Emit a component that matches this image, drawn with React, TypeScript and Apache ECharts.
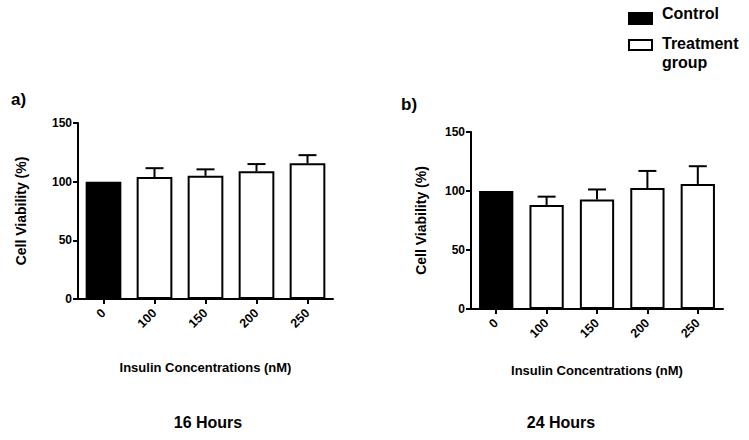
import React, { useEffect, useRef } from "react";
import * as echarts from "echarts";

const categories = ["0", "100", "150", "200", "250"];
const values16h = [100, 104, 105, 108.8, 115.6];
const errors16h = [0, 7.5, 5.5, 6.2, 7];
const values24h = [100, 88.2, 92.8, 102.5, 106];
const errors24h = [0, 7, 8.5, 14.5, 15];
const yTicks = { min: 0, max: 150, interval: 50 };

const FONT = "Liberation Sans, Arial, sans-serif";

function barData(values: number[]) {
  return values.map((v, i) => ({
    value: v,
    itemStyle: {
      color: i === 0 ? "#000" : "#fff",
      borderColor: "#000",
      borderWidth: 2,
    },
  }));
}

function errData(values: number[], errs: number[]) {
  return values
    .map((v, i) => [i, v, errs[i]])
    .filter((d) => d[2] > 0);
}

function errRender(params: any, api: any) {
  const idx = api.value(0);
  const v = api.value(1);
  const e = api.value(2);
  const p0 = api.coord([idx, v]);
  const p1 = api.coord([idx, v + e]);
  const half = 9;
  const style = { stroke: "#000", lineWidth: 2 };
  return {
    type: "group",
    children: [
      { type: "line", shape: { x1: p0[0], y1: p0[1], x2: p1[0], y2: p1[1] }, style },
      { type: "line", shape: { x1: p1[0] - half, y1: p1[1], x2: p1[0] + half, y2: p1[1] }, style },
    ],
  };
}

export default function App() {
  const ref = useRef<HTMLDivElement>(null);
  useEffect(() => {
    if (!ref.current) return;
    const chart = echarts.init(ref.current, null, { renderer: "svg" });
    const axisLine = { show: true, lineStyle: { color: "#000", width: 2 } };
    const xAxisCommon = (gridIndex: number, gap: number) => ({
      type: "category",
      gridIndex,
      data: categories,
      axisLine,
      axisTick: { show: true, alignWithLabel: true, length: 5, lineStyle: { color: "#000", width: 2 } },
      axisLabel: {
        rotate: 45,
        fontFamily: FONT,
        fontWeight: "bold",
        fontSize: 12.5,
        color: "#000",
        margin: 12,
      },
      name: "Insulin Concentrations (nM)",
      nameLocation: "middle",
      nameGap: gap,
      nameTextStyle: { fontFamily: FONT, fontWeight: "bold", fontSize: 13, color: "#000" },
    });
    const yAxisCommon = (gridIndex: number, gap: number) => ({
      type: "value",
      gridIndex,
      min: yTicks.min,
      max: yTicks.max,
      interval: yTicks.interval,
      axisLine,
      axisTick: { show: true, length: 5, lineStyle: { color: "#000", width: 2 } },
      splitLine: { show: false },
      axisLabel: { fontFamily: FONT, fontWeight: "bold", fontSize: 12, color: "#000", margin: 6 },
      name: "Cell Viability (%)",
      nameLocation: "middle",
      nameGap: gap,
      nameTextStyle: { fontFamily: FONT, fontWeight: "bold", fontSize: 14, color: "#000" },
    });
    chart.setOption({
      animation: false,
      backgroundColor: "#fff",
      grid: [
        { left: 78, top: 123, width: 255, height: 176 },
        { left: 471, top: 132, width: 252, height: 177 },
      ],
      xAxis: [xAxisCommon(0, 62), xAxisCommon(1, 55)],
      yAxis: [yAxisCommon(0, 50), yAxisCommon(1, 43)],
      series: [
        { type: "bar", xAxisIndex: 0, yAxisIndex: 0, barWidth: "70%", data: barData(values16h) },
        { type: "bar", xAxisIndex: 1, yAxisIndex: 1, barWidth: "68%", data: barData(values24h) },
        { type: "custom", xAxisIndex: 0, yAxisIndex: 0, renderItem: errRender, data: errData(values16h, errors16h), z: 5 },
        { type: "custom", xAxisIndex: 1, yAxisIndex: 1, renderItem: errRender, data: errData(values24h, errors24h), z: 5 },
      ],
      graphic: [
        { type: "text", x: 11, y: 99, style: { text: "a)", font: `bold 17px ${FONT}`, fill: "#000", verticalAlign: "middle" } },
        { type: "text", x: 401, y: 104, style: { text: "b)", font: `bold 17px ${FONT}`, fill: "#000", verticalAlign: "middle" } },
        { type: "text", x: 208, y: 422, style: { text: "16 Hours", font: `bold 16px ${FONT}`, fill: "#000", align: "center", verticalAlign: "middle" } },
        { type: "text", x: 561, y: 422, style: { text: "24 Hours", font: `bold 16px ${FONT}`, fill: "#000", align: "center", verticalAlign: "middle" } },
        { type: "rect", shape: { x: 628, y: 12, width: 25, height: 13 }, style: { fill: "#000" } },
        { type: "text", x: 662, y: 13, style: { text: "Control", font: `bold 16px ${FONT}`, fill: "#000", verticalAlign: "middle" } },
        { type: "rect", shape: { x: 629, y: 40, width: 23, height: 10 }, style: { fill: "#fff", stroke: "#000", lineWidth: 2 } },
        { type: "text", x: 662, y: 43, style: { text: "Treatment", font: `bold 16px ${FONT}`, fill: "#000", verticalAlign: "middle" } },
        { type: "text", x: 662, y: 62, style: { text: "group", font: `bold 16px ${FONT}`, fill: "#000", verticalAlign: "middle" } },
      ],
    });
    return () => chart.dispose();
  }, []);
  return <div ref={ref} style={{ width: 749, height: 440, position: "absolute", left: 0, top: 0 }} />;
}
